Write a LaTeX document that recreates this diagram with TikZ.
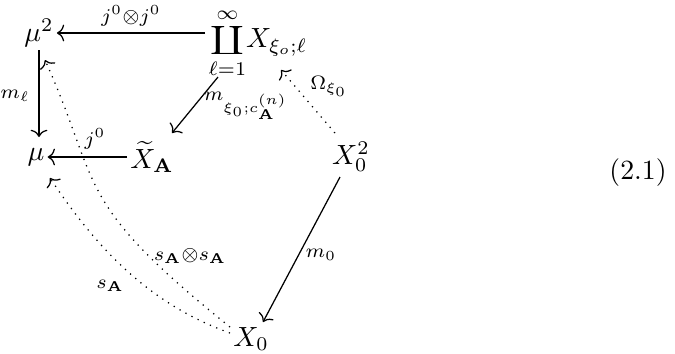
\documentclass[tikz,border=0pt]{standalone}
\usepackage{amsmath,amssymb}
\usetikzlibrary{arrows.meta}
\newcommand{\mycoprod}{\mathop{\vcenter{\hbox{\scalebox{0.95}[0.72]{$\displaystyle\coprod$}}}}\limits}
\begin{document}
\begin{tikzpicture}[x=0.36pt,y=-0.36pt,
  obj/.style={inner sep=1pt},
  lab/.style={font=\scriptsize,inner sep=0pt},
  arr/.style={-{Computer Modern Rightarrow[length=2.6pt,width=6pt]},line width=0.45pt},
  darr/.style={arr,dotted}]
\useasboundingbox (0,0) rectangle (675,353);
\node[obj] (mu2) at (39,33) {$\mu^2$};
\node[obj] (cop) at (258,43) {$\mycoprod_{\ell=1}^{\infty}\!X_{\xi_o;\ell}$};
\node[obj] (mu) at (36,157) {$\mu$};
\node[obj] (xa) at (152,157) {$\widetilde{X}_{\mathbf{A}}$};
\node[obj] (x02) at (351,157) {$X_0^2$};
\node[obj] (x0) at (251,339) {$X_0$};
\node (eq) at (638,173) {(2.1)};
% labels
\node[lab] (l1) at (131,16) {$j^0{\otimes}j^0$};
\node[lab] (l2) at (15,96) {$m_\ell$};
\node[lab] (l3) at (95,139) {$j^0$};
\node[lab] (l4) at (246,106) {$m_{\xi_0;c_{\mathbf{A}}^{(n)}}$};
\node[lab] (l5) at (329,86) {$\Omega_{\xi_0}$};
\node[lab] (l6) at (321,255) {$m_0$};
\node[lab] (l7) at (110,286) {$s_{\mathbf{A}}$};
\node[lab] (l8) at (190,256) {$s_{\mathbf{A}}{\otimes}s_{\mathbf{A}}$};
% connectors
\coordinate (copW) at ([shift={(-53,-10)}]cop.center);
\draw[arr] (copW) -- (mu2.east|-copW);
\draw[arr] (mu2.south) -- ([shift={(0,-8)}]mu2.south|-mu.north);
\draw[arr] (xa.west) -- (mu.east);
\draw[arr] ([shift={(-40,34)}]cop.center) -- ([shift={(20,-24)}]xa.center);
\draw[darr] ([shift={(-16,-24)}]x02.center) -- ([shift={(23,27)}]cop.center);
\draw[arr] ([shift={(-11,20)}]x02.center) -- ([shift={(12,-17)}]x0.center);
\draw[darr] ([shift={(-21,-6)}]x0.center) .. controls (146,303) and (94,244) .. ([shift={(14,21)}]mu.center);
\draw[darr] ([shift={(-21,-12)}]x0.center) .. controls (72,200) and (102,187) .. ([shift={(6,27)}]mu2.center);
\end{tikzpicture}
\end{document}
